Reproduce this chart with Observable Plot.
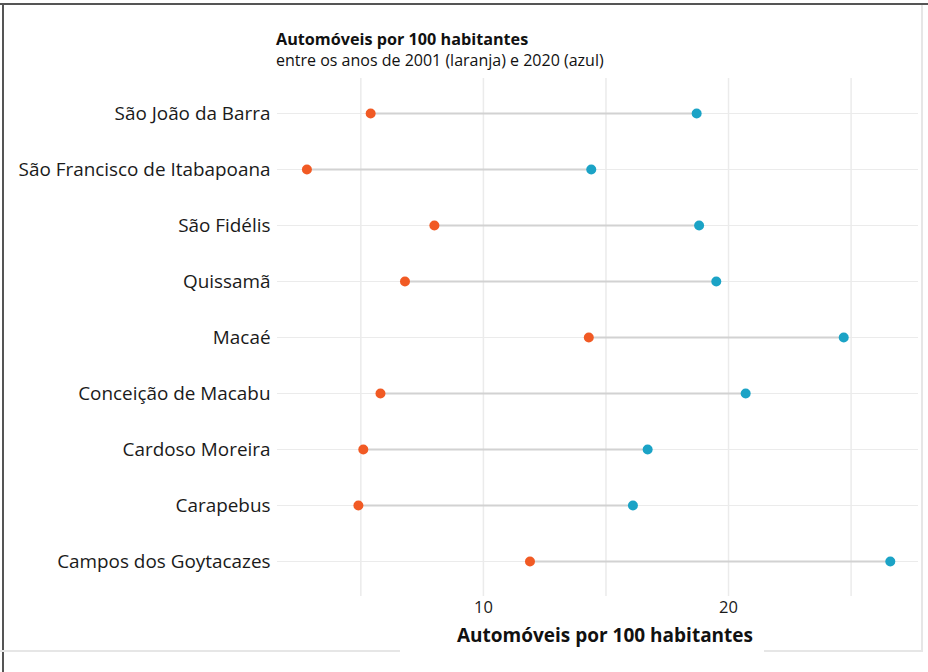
<!DOCTYPE html>
<html>
<head>
<meta charset="utf-8">
<script src="https://cdn.jsdelivr.net/npm/d3@7"></script>
<script src="https://cdn.jsdelivr.net/npm/@observablehq/plot@0.6"></script>
<style>
  body { margin: 0; background: #fff; }
  #wrap { position: relative; width: 928px; height: 672px; background: #fff; overflow: hidden; font-family: "Open Sans", sans-serif; color: #111; }
  #wrap svg { position: absolute; left: 0; top: 0; }
  .line { position: absolute; }
  #title { position: absolute; left: 276px; top: 31px; line-height: 1; }
  #title .t { font-weight: bold; font-size: 16.2px; }
  #title .s { font-size: 16px; margin-top: 4.4px; }
  #xtitle { position: absolute; left: 400px; width: 410px; top: 626px; line-height: 1; font-weight: bold; font-size: 19px; text-align: center; }
</style>
</head>
<body>
<div id="wrap">
  <div class="line" style="left:0;top:3px;width:928px;height:2px;background:#555"></div>
  <div class="line" style="left:2px;top:3px;width:1.5px;height:669px;background:#555"></div>
  <div class="line" style="left:921px;top:5px;width:2px;height:647px;background:#e6e6e6"></div>
  <div class="line" style="left:0;top:650px;width:400px;height:2px;background:#e6e6e6"></div>
  <div class="line" style="left:764px;top:650px;width:159px;height:2px;background:#e6e6e6"></div>
  <div id="chart"></div>
  <div id="title"><div class="t">Automóveis por 100 habitantes</div><div class="s">entre os anos de 2001 (laranja) e 2020 (azul)</div></div>
  <div id="xtitle">Automóveis por 100 habitantes</div>
</div>
<script>
const cities = [
  "São João da Barra",
  "São Francisco de Itabapoana",
  "São Fidélis",
  "Quissamã",
  "Macaé",
  "Conceição de Macabu",
  "Cardoso Moreira",
  "Carapebus",
  "Campos dos Goytacazes"
];
const v2001 = [5.4, 2.8, 8.0, 6.8, 14.3, 5.8, 5.1, 4.9, 11.9];
const v2020 = [18.7, 14.4, 18.8, 19.5, 24.7, 20.7, 16.7, 16.1, 26.6];
const gridValues = [5, 10, 15, 20, 25];
const tickValues = [10, 20];

const data = cities.map((c, i) => ({city: c, a: v2001[i], b: v2020[i]}));

const chart = Plot.plot({
  width: 928,
  height: 672,
  marginLeft: 277,
  marginRight: 10,
  marginTop: 78,
  marginBottom: 76,
  style: {fontFamily: "'Open Sans', sans-serif", background: "transparent", color: "#1a1a1a"},
  x: {domain: [1.6, 27.75]},
  y: {type: "point", domain: cities, padding: 0.6},
  marks: [
    Plot.ruleY(cities, {y: d => d, stroke: "#ebebeb", strokeWidth: 1.2}),
    Plot.ruleX(gridValues, {x: d => d, stroke: "#ebebeb", strokeWidth: 1.5}),
    Plot.link(data, {x1: "a", x2: "b", y1: "city", y2: "city", stroke: "#d2d2d2", strokeWidth: 2}),
    Plot.dot(data, {x: "a", y: "city", r: 5, fill: "#f15a24", stroke: "none"}),
    Plot.dot(data, {x: "b", y: "city", r: 5, fill: "#1ba3c6", stroke: "none"}),
    Plot.axisY({tickSize: 0, tickPadding: 7, fontSize: 18.9, label: null}),
    Plot.axisX(tickValues, {tickSize: 0, tickPadding: 5, fontSize: 16.5, label: null})
  ]
});
document.getElementById("chart").appendChild(chart);
</script>
</body>
</html>
